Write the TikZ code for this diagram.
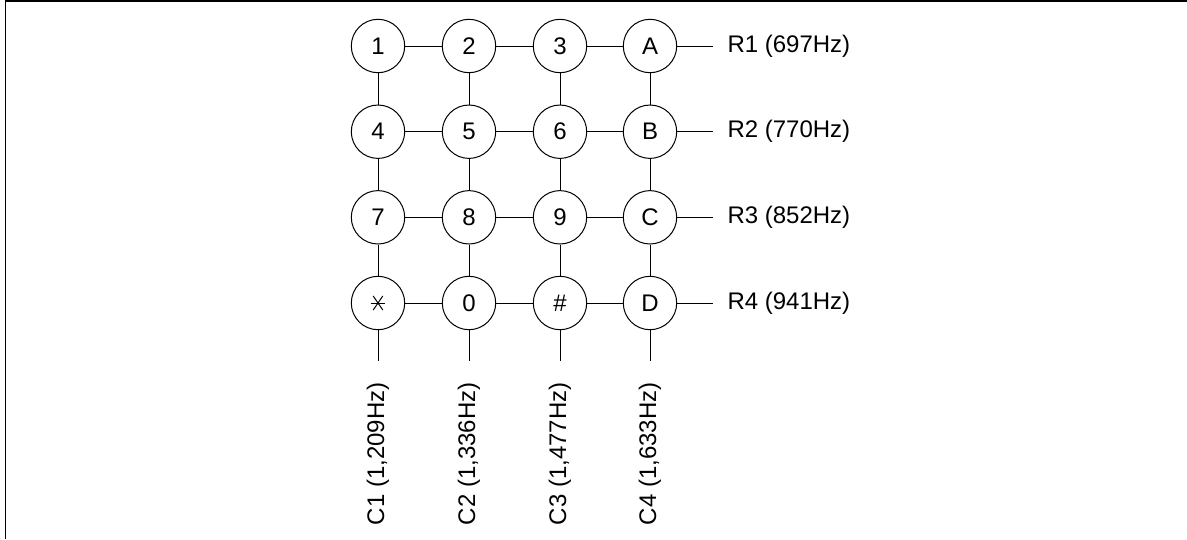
\documentclass[tikz,border=0pt]{standalone}
\usepackage{fontspec}
\setmainfont{Liberation Sans}
\begin{document}
\begin{tikzpicture}[x=1pt,y=-1pt,line width=1pt,
  key/.style={circle,draw,minimum size=53.4pt,inner sep=0pt,font=\fontsize{24}{29}\selectfont},
  rlab/.style={anchor=west,inner xsep=14pt,inner ysep=0pt,font=\fontsize{24}{29}\selectfont},
  clab/.style={anchor=east,rotate=90,inner xsep=21pt,inner ysep=0pt,font=\fontsize{24}{29}\selectfont},
  wire/.style={draw,line width=1pt}]
\useasboundingbox (0,0) rectangle (1187,539);
\draw[line width=1.3pt] (5.5,539) -- (5.5,1) -- (1187,1);
% keys
\node[key] (k1) at (378,46) {1};
\node[key] (k2) at (469,46) {2};
\node[key] (k3) at (560,46) {3};
\node[key] (kA) at (650,46) {A};
\node[key] (k4) at (378,131.7) {4};
\node[key] (k5) at (469,131.7) {5};
\node[key] (k6) at (560,131.7) {6};
\node[key] (kB) at (650,131.7) {B};
\node[key] (k7) at (378,217.3) {7};
\node[key] (k8) at (469,217.3) {8};
\node[key] (k9) at (560,217.3) {9};
\node[key] (kC) at (650,217.3) {C};
\node[key] (ks) at (378,303) {};
\node[key] (k0) at (469,303) {0};
\node[key] (kh) at (560,303) {\#};
\node[key] (kD) at (650,303) {D};
% asterisk
\draw[line width=1pt] ([shift={(-7,0)}]ks.center) -- ([shift={(7,0)}]ks.center);
\draw[line width=1pt] ([shift={(-4.8,-7)}]ks.center) -- ([shift={(4.8,7)}]ks.center);
\draw[line width=1pt] ([shift={(4.8,-7)}]ks.center) -- ([shift={(-4.8,7)}]ks.center);
% row labels
\node[rlab] (r1) at (713,46) {R1 (697Hz)};
\node[rlab] (r2) at (713,131.7) {R2 (770Hz)};
\node[rlab] (r3) at (713,217.3) {R3 (852Hz)};
\node[rlab] (r4) at (713,303) {R4 (941Hz)};
% column labels
\node[clab] (c1) at (378,361) {C1 (1,209Hz)};
\node[clab] (c2) at (469,361) {C2 (1,336Hz)};
\node[clab] (c3) at (560,361) {C3 (1,477Hz)};
\node[clab] (c4) at (650,361) {C4 (1,633Hz)};
% horizontal wires
\path[wire] (k1) -- (k2) (k2) -- (k3) (k3) -- (kA) (kA.east) -- (r1.west);
\path[wire] (k4) -- (k5) (k5) -- (k6) (k6) -- (kB) (kB.east) -- (r2.west);
\path[wire] (k7) -- (k8) (k8) -- (k9) (k9) -- (kC) (kC.east) -- (r3.west);
\path[wire] (ks) -- (k0) (k0) -- (kh) (kh) -- (kD) (kD.east) -- (r4.west);
% vertical wires
\path[wire] (k1) -- (k4) (k4) -- (k7) (k7) -- (ks) (ks.south) -- (c1.east);
\path[wire] (k2) -- (k5) (k5) -- (k8) (k8) -- (k0) (k0.south) -- (c2.east);
\path[wire] (k3) -- (k6) (k6) -- (k9) (k9) -- (kh) (kh.south) -- (c3.east);
\path[wire] (kA) -- (kB) (kB) -- (kC) (kC) -- (kD) (kD.south) -- (c4.east);
\end{tikzpicture}
\end{document}
